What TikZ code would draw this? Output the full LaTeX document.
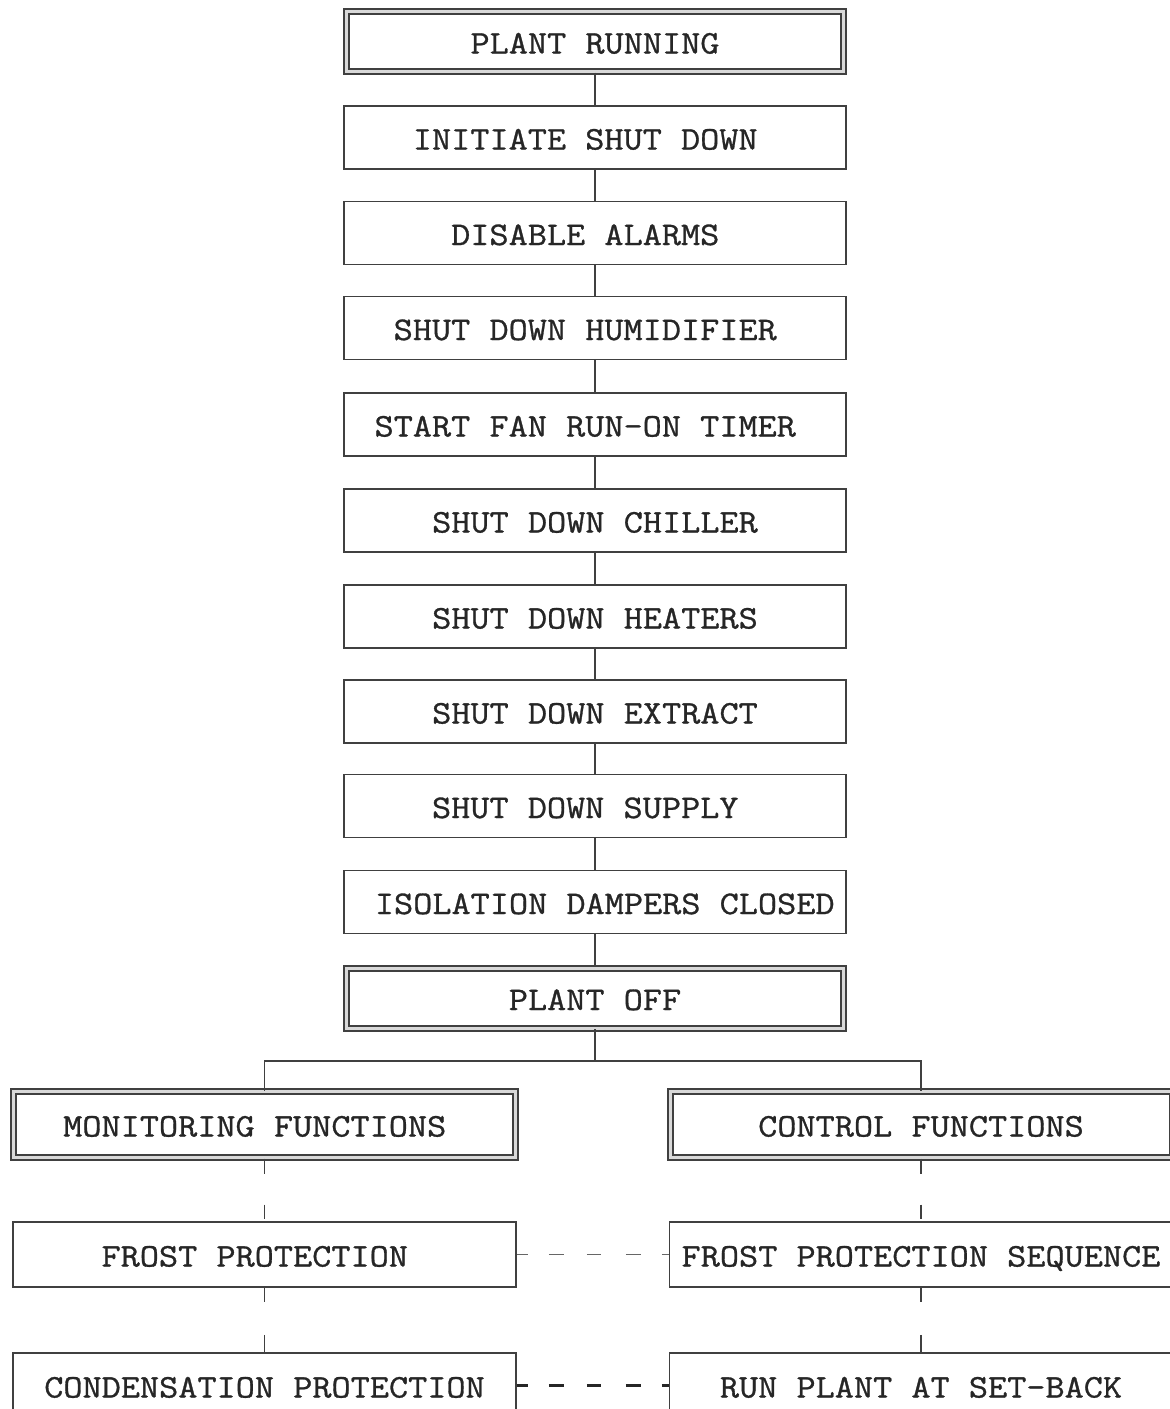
\documentclass[tikz,border=0pt]{standalone}
\usepackage{fontspec}
\newfontfamily\monofnt{Latin Modern Mono}[FakeStretch=1.127, FakeBold=0.9]
\begin{document}
\begin{tikzpicture}[x=1pt,y=-1pt,
  box/.style={draw=black!75, line width=1.9pt, minimum width=502pt, minimum height=63pt,
    inner sep=0pt, outer sep=auto, text height=24pt, text depth=0pt,
    font=\monofnt\fontsize{33}{36}\selectfont, text=black!85},
  dbox/.style={box, line width=2pt, double=black!15, double distance=3pt,
    minimum width=497pt, minimum height=60pt},
  link/.style={draw=black!75, line width=1.9pt},
  vdashA/.style={link, dash pattern=on 15pt off 31pt on 14pt off 300pt},
  vdashB/.style={link, dash pattern=on 14pt off 33pt on 17pt off 300pt},
  hdash/.style={link, dash pattern=on 11pt off 21pt on 15pt off 23pt on 14pt off 25pt on 15pt off 21pt on 9pt off 300pt}
]
\clip (0,0) rectangle (1170,1409);
\fill[white] (0,0) rectangle (1170,1409);

% main column
\node[dbox] (run) at (595,41.5) {PLANT RUNNING};
\node[box] (init) at (595,137.5) {INITIATE SHUT DOWN\hspace*{19.5pt}};
\node[box] (alarm) at (595,233) {DISABLE ALARMS\hspace*{19.5pt}};
\node[box] (humid) at (595,328) {SHUT DOWN HUMIDIFIER\hspace*{19.5pt}};
\node[box] (fan) at (595,424.5) {START FAN RUN-ON TIMER\hspace*{19.5pt}};
\node[box] (chill) at (595,520.5) {SHUT DOWN CHILLER};
\node[box] (heat) at (595,616.5) {SHUT DOWN HEATERS};
\node[box] (extr) at (595,711.5) {SHUT DOWN EXTRACT};
\node[box] (supp) at (595,806) {SHUT DOWN SUPPLY\hspace*{19.5pt}};
\node[box] (iso) at (595,902) {\hspace*{19.5pt}ISOLATION DAMPERS CLOSED};
\node[dbox] (off) at (595,998) {PLANT OFF};

% lower part
\node[dbox, minimum width=502pt, minimum height=66pt] (mon) at (264.5,1124.5) {MONITORING FUNCTIONS\hspace*{19.5pt}};
\node[dbox, minimum width=502pt, minimum height=66pt] (ctl) at (921,1124.5) {CONTROL FUNCTIONS};
\node[box, minimum width=503pt, minimum height=65pt] (frost) at (264.5,1254.5) {FROST PROTECTION\hspace*{19.5pt}};
\node[box, minimum width=503pt, minimum height=65pt] (fps) at (921,1254.5) {FROST PROTECTION SEQUENCE};
\node[box, minimum width=503pt, minimum height=65pt] (cond) at (264.5,1385.5) {CONDENSATION PROTECTION};
\node[box, minimum width=503pt, minimum height=65pt] (setb) at (921,1385.5) {RUN PLANT AT SET-BACK};

% connectors
\foreach \a/\b in {run/init, init/alarm, alarm/humid, humid/fan, fan/chill, chill/heat, heat/extr, extr/supp, supp/iso, iso/off}
  \draw[link] (\a) -- (\b);
\coordinate (j) at (595,1061);
\draw[link] (off) -- (j);
\draw[link] (mon.north) |- (j) -| (ctl.north);

\draw[vdashA] (mon.south) -- (frost.north);
\draw[vdashA] (ctl.south) -- (fps.north);
\draw[vdashB] (frost.south) -- (cond.north);
\draw[vdashB] (fps.south) -- (setb.north);

\draw[hdash, draw=black!60, line width=1.6pt] (frost.east) -- (fps.west);
\draw[hdash, draw=black!85, line width=2.6pt] (cond.east) -- (setb.west);
\end{tikzpicture}
\end{document}
